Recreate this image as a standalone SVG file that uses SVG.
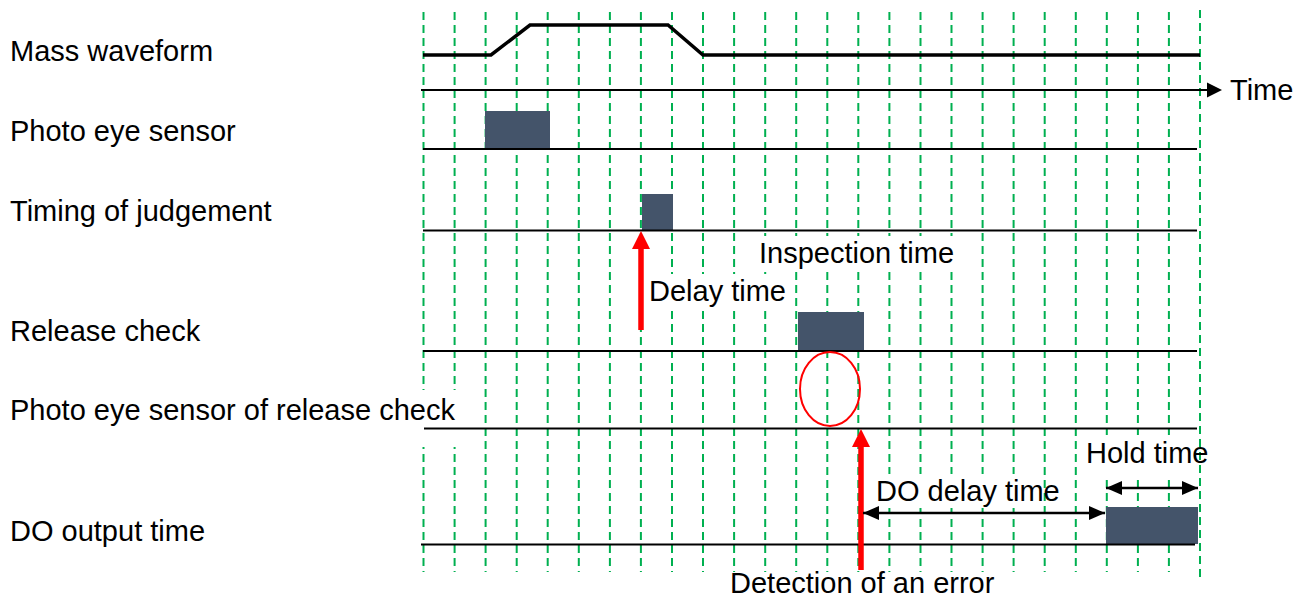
<svg xmlns="http://www.w3.org/2000/svg" width="1308" height="603" viewBox="0 0 1308 603">
<style>
text{font-family:"Liberation Sans",Arial,sans-serif;font-size:29px;fill:#000}
.grid{stroke:#00B050;stroke-width:2;stroke-dasharray:8 5;fill:none}
.axis{stroke:#000;stroke-width:2.2;fill:none}
.blk{fill:#44546A}
.bg{fill:#fff}
.red{stroke:#FF0000;stroke-width:5.5;fill:none}
.redh{fill:#FF0000}
.dim{stroke:#000;stroke-width:2.5;fill:none}
</style>
<defs>
<marker id="ah" viewBox="0 0 16 14" refX="16" refY="7" markerWidth="16" markerHeight="14" markerUnits="userSpaceOnUse" orient="auto-start-reverse">
<path d="M0,0 L16,7 L0,14 Z" fill="#000"/>
</marker>
</defs>
<rect width="1308" height="603" fill="#fff"/>
<g id="grid">
<path class="grid" d="M423.5,12V572M454.6,12V572M485.6,12V572M516.7,12V572M547.7,12V572M578.8,12V572M609.9,12V572M640.9,12V572M672,12V572M703,12V572M734.1,12V572M765.2,12V572M796.2,12V572M827.3,12V572M858.3,12V572M889.4,12V572M920.5,12V572M951.5,12V572M982.6,12V572M1013.6,12V572M1044.7,12V572M1075.8,12V572M1106.8,12V572M1137.9,12V572M1168.9,12V572M1200,10V580"/>
</g>
<g id="label-backgrounds">
<rect class="bg" x="0" y="390" width="460" height="57"/>
<rect class="bg" x="755" y="236" width="203" height="36"/>
<rect class="bg" x="645" y="274" width="145" height="35"/>
<rect class="bg" x="870" y="474" width="170" height="34"/>
<rect class="bg" x="1080" y="435" width="116" height="41"/>
</g>
<g id="time-axis">
<line class="axis" x1="421" y1="90" x2="1207" y2="90"/>
<path d="M1207,82.5 L1222,90 L1207,97.5 Z" fill="#000"/>
<text x="1230" y="100">Time</text>
</g>
<g id="mass-waveform">
<text x="10" y="61">Mass waveform</text>
<polyline points="423,55 491,55 530,25 668,25 703,55 1200,55" fill="none" stroke="#000" stroke-width="3.5"/>
</g>
<g id="photo-eye-sensor">
<text x="10" y="141">Photo eye sensor</text>
<rect class="blk" x="485" y="111" width="65" height="38"/>
<line class="axis" x1="423" y1="149" x2="1197" y2="149"/>
</g>
<g id="timing-of-judgement">
<text x="10" y="221">Timing of judgement</text>
<rect class="blk" x="642" y="194" width="31" height="36"/>
<line class="axis" x1="423" y1="230.5" x2="1197" y2="230.5"/>
</g>
<g id="release-check">
<text x="10" y="341">Release check</text>
<rect class="blk" x="798" y="312" width="66" height="39"/>
<line class="axis" x1="423" y1="351" x2="1197" y2="351"/>
</g>
<g id="photo-eye-release">
<text x="10" y="420">Photo eye sensor of release check</text>
<line class="axis" x1="424" y1="428.5" x2="1197" y2="428.5"/>
<ellipse cx="830" cy="389" rx="30" ry="37" fill="none" stroke="#FF0000" stroke-width="2"/>
</g>
<g id="do-output">
<text x="10" y="541">DO output time</text>
<rect class="blk" x="1106" y="507" width="92" height="37"/>
<line class="axis" x1="421" y1="544.5" x2="1195" y2="544.5"/>
</g>
<g id="connectors">
<line class="red" x1="641" y1="330" x2="641" y2="246"/>
<path class="redh" d="M641,231 L650,249 L632,249 Z"/>
<line class="red" x1="861" y1="570" x2="861" y2="445"/>
<path class="redh" d="M861,429 L870,447 L852,447 Z"/>
<line class="dim" x1="863" y1="513" x2="1105" y2="513" marker-start="url(#ah)" marker-end="url(#ah)"/>
<line class="dim" x1="1106" y1="488" x2="1198" y2="488" marker-start="url(#ah)" marker-end="url(#ah)"/>
</g>
<g id="annotations">
<text x="759" y="263">Inspection time</text>
<text x="649" y="301">Delay time</text>
<text x="1086" y="463">Hold time</text>
<text x="876" y="501">DO delay time</text>
<text x="730" y="593">Detection of an error</text>
</g>
</svg>
